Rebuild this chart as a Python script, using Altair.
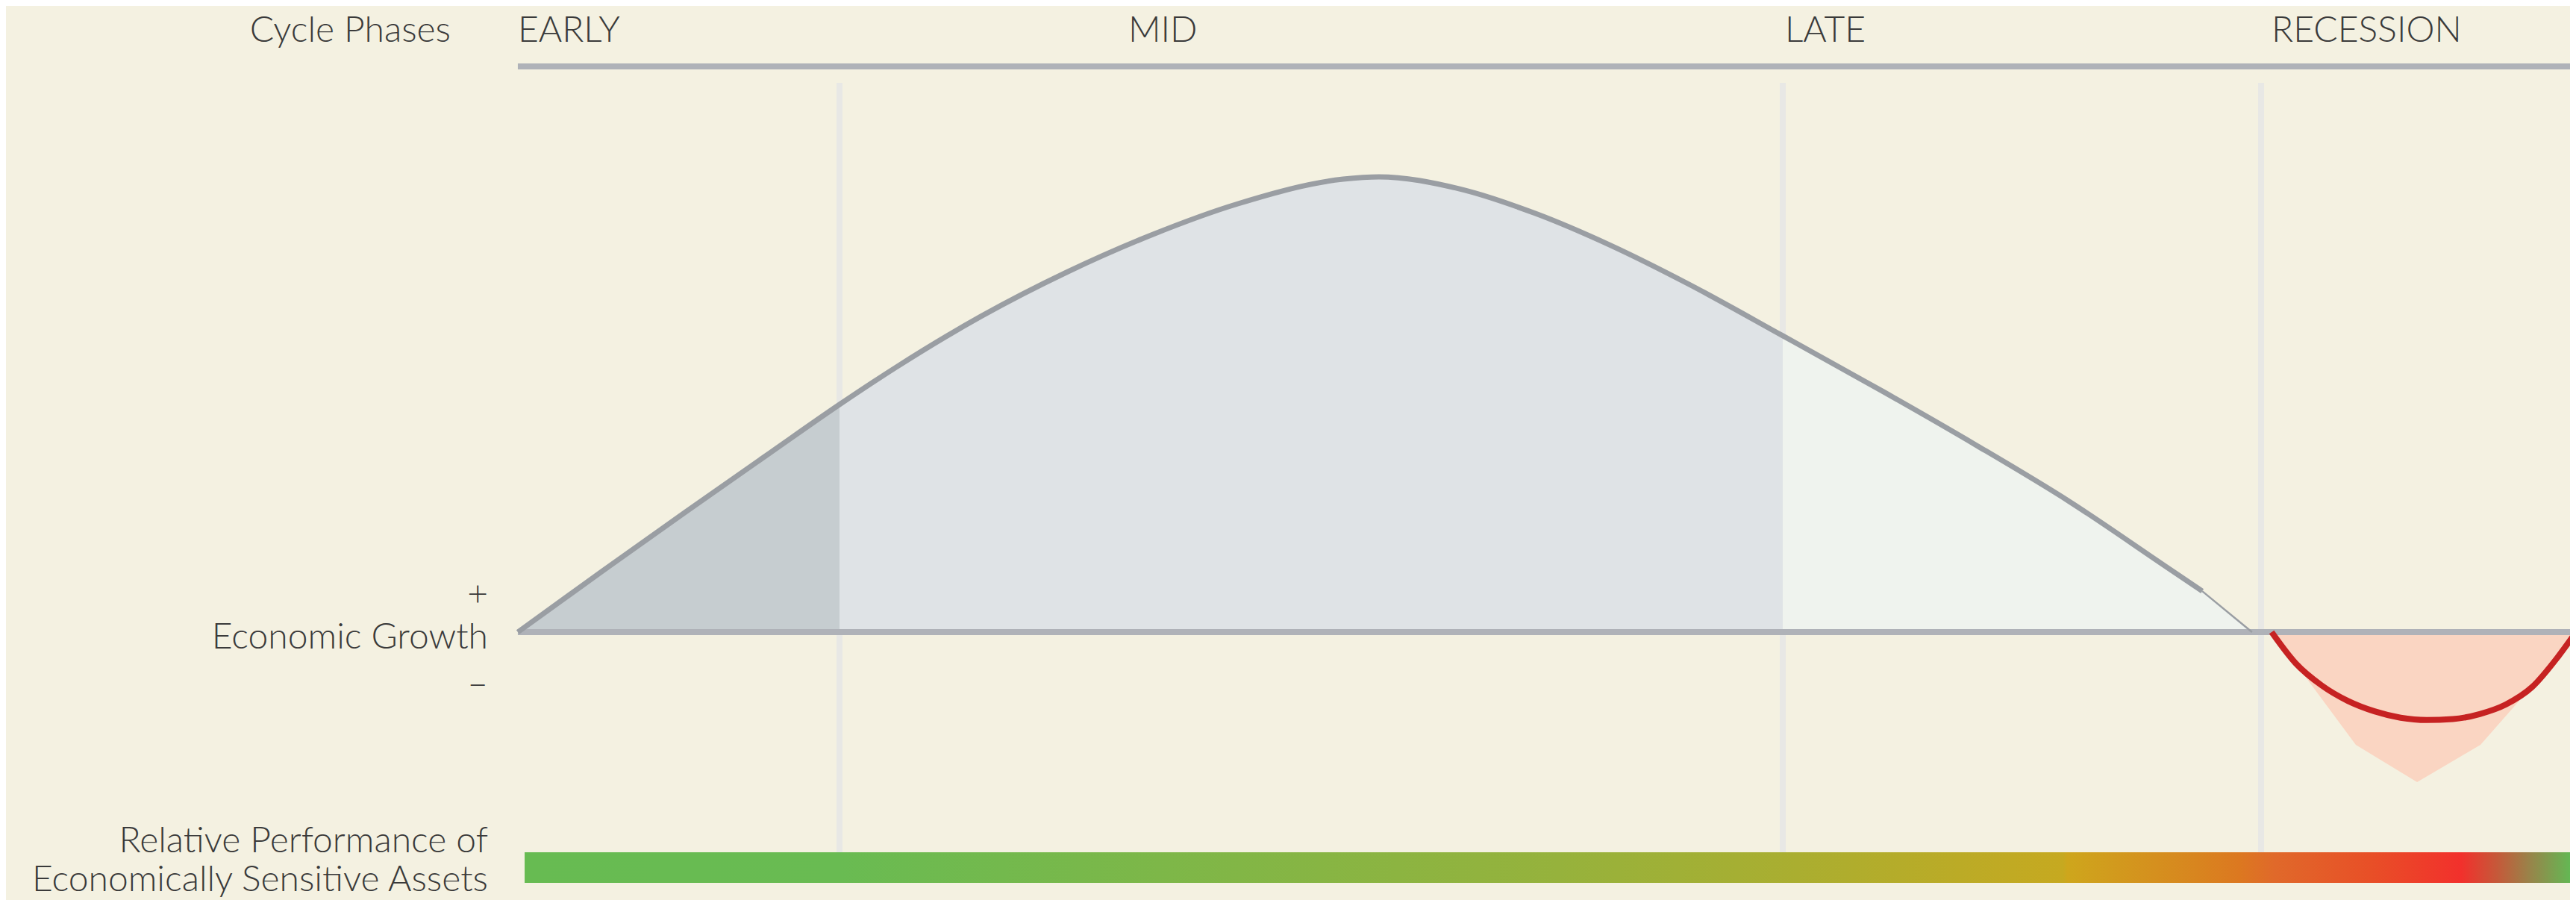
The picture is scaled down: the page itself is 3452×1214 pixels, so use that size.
import altair as alt
import pandas as pd

# ---------------- data (cycle position 0-100, growth index: peak = 100) -------------
curve_x = [0, 3.95, 8.12, 12.29, 15.63, 18.35, 22.52, 26.69, 30.82, 34.99, 40.10, 41.84,
           45.72, 49.42, 53.12, 56.82, 61.46, 66.35, 70.88, 75.38, 79.91, 81.84, 84.26]
curve_y = [0, 12.9, 26.3, 39.5, 50.0, 58.1, 69.4, 79.1, 87.3, 94.1, 99.5, 100.0,
           97.4, 92.0, 84.9, 76.6, 65.1, 52.8, 41.0, 28.7, 14.9, 9.0, 0]

phase_names = ["EARLY", "MID", "LATE", "RECESSION"]
phase_starts = [0, 15.63, 61.46, 84.70]
phase_ends = [15.63, 61.46, 84.26, 100]
phase_label_x = [0, 29.66, 61.57, 85.21]
phase_fills = ["#c6cdd0", "#dfe3e6", "#eff3ee"]

rec_x = [85.21, 86.37, 87.64, 88.91, 90.21, 91.48, 92.75, 94.02, 95.32, 96.59, 97.86, 99.13, 100]
rec_y = [0, -6.8, -11.7, -15.1, -17.4, -18.8, -19.3, -19.1, -18.0, -15.9, -12.1, -5.4, 0]

band_x = [85.21, 86.26, 89.30, 92.28, 95.36, 98.11, 99.13, 100]
band_y = [0, -6.2, -24.75, -32.95, -24.75, -10.6, -5.4, 0]

perf_start, perf_end = 0.33, 100
perf_offsets = [0, 0.154, 0.504, 0.62, 0.75, 0.752, 0.815, 0.836, 0.853, 0.90, 0.944, 0.962, 0.978, 1.0]
perf_colors = ["#67bb52", "#69bb52", "#96b23c", "#aaae30", "#c6a920", "#cea61c", "#d8851f",
               "#dc7820", "#e0692a", "#e84f27", "#f2302c", "#c45a3a", "#97854a", "#5cbf55"]

# ---------------- layout ----------------
W, H = 3436, 1198
X_DOM = [-24.87, 99.71]
Y_DOM = [-58.85, 137.54]
FONT = "Lato"
TXT = "#3a3a3a"
FS = 48

xs = alt.Scale(domain=X_DOM, nice=False, zero=False)
ys = alt.Scale(domain=Y_DOM, nice=False, zero=False)

curve = pd.DataFrame({"x": curve_x, "y": curve_y})

fill_rows = []
for i in range(3):
    for xv, yv in zip(curve_x, curve_y):
        if phase_starts[i] - 1e-9 <= xv <= phase_ends[i] + 1e-9:
            fill_rows.append({"x": xv, "y": yv, "phase": phase_names[i]})
fills = pd.DataFrame(fill_rows)

grid = pd.DataFrame({"x": phase_starts[1:]})

grid_layer = alt.Chart(grid).mark_rule(color="#e8e8e5", strokeWidth=8).encode(
    x=alt.X("x:Q", scale=xs, axis=None), y=alt.value(103), y2=alt.value(1134))

fill_layer = alt.Chart(fills).mark_area(interpolate="monotone").encode(
    x=alt.X("x:Q", scale=xs, axis=None),
    y=alt.Y("y:Q", scale=ys, axis=None),
    y2=alt.datum(0),
    color=alt.Color("phase:N", scale=alt.Scale(domain=phase_names[:3], range=phase_fills), legend=None),
    detail="phase:N")

band = pd.DataFrame({"x": band_x, "y": band_y})
band_layer = alt.Chart(band).mark_area(color="#fad5c2", interpolate="linear").encode(
    x=alt.X("x:Q", scale=xs, axis=None), y=alt.Y("y:Q", scale=ys, axis=None), y2=alt.datum(0))

rec = pd.DataFrame({"x": rec_x, "y": rec_y})
rec_fill = alt.Chart(rec).mark_area(color="#fad5c2", interpolate="monotone").encode(
    x=alt.X("x:Q", scale=xs, axis=None), y=alt.Y("y:Q", scale=ys, axis=None), y2=alt.datum(0))

base_rule = alt.Chart(pd.DataFrame({"x": [0], "x2": [100], "y": [0]})).mark_rule(
    color="#afb2b8", strokeWidth=8).encode(
    x=alt.X("x:Q", scale=xs, axis=None), x2="x2:Q", y=alt.Y("y:Q", scale=ys, axis=None))

top_rule = alt.Chart(pd.DataFrame({"x": [0], "x2": [100]})).mark_rule(
    color="#afb2b8", strokeWidth=8).encode(
    x=alt.X("x:Q", scale=xs, axis=None), x2="x2:Q", y=alt.value(81))

main_curve = curve[curve.x <= 81.84]
tail_curve = curve[curve.x >= 81.84]
line_layer = alt.Chart(main_curve).mark_line(color="#9a9ea3", strokeWidth=7, interpolate="monotone").encode(
    x=alt.X("x:Q", scale=xs, axis=None), y=alt.Y("y:Q", scale=ys, axis=None))
tail_layer = alt.Chart(tail_curve).mark_line(color="#9a9ea3", strokeWidth=2.5).encode(
    x=alt.X("x:Q", scale=xs, axis=None), y=alt.Y("y:Q", scale=ys, axis=None))

rec_line = alt.Chart(rec).mark_line(color="#c62222", strokeWidth=8, interpolate="monotone").encode(
    x=alt.X("x:Q", scale=xs, axis=None), y=alt.Y("y:Q", scale=ys, axis=None))

grad = alt.LinearGradient(
    gradient="linear", x1=0, x2=1, y1=0, y2=0,
    stops=[alt.GradientStop(offset=o, color=c) for o, c in zip(perf_offsets, perf_colors)])
bar_layer = alt.Chart(pd.DataFrame({"x": [perf_start], "x2": [perf_end]})).mark_rect(color=grad).encode(
    x=alt.X("x:Q", scale=xs, axis=None), x2="x2:Q", y=alt.value(1134), y2=alt.value(1175))

phases = pd.DataFrame({"name": phase_names, "x": phase_label_x})
phase_text = alt.Chart(phases).mark_text(
    align="left", baseline="alphabetic", font=FONT, fontSize=FS, fontWeight=300, color=TXT).encode(
    x=alt.X("x:Q", scale=xs, axis=None), y=alt.value(48), text="name:N")


def label(txt, x, y, baseline="alphabetic"):
    return alt.Chart(pd.DataFrame({"t": [txt]})).mark_text(
        align="right", baseline=baseline, font=FONT, fontSize=FS, fontWeight=300, color=TXT,
        lineBreak="\n", lineHeight=52).encode(
        x=alt.value(x), y=alt.value(y), text="t:N")


labels = [
    label("Cycle Phases", 596, 48),
    label("+", 646, 790, "middle"),
    label("Economic Growth", 646, 861),
    label("\u2013", 646, 910, "middle"),
    label("Relative Performance of\nEconomically Sensitive Assets", 646, 1134),
]

chart = alt.layer(
    grid_layer, fill_layer, band_layer, rec_fill, base_rule, top_rule,
    line_layer, tail_layer, rec_line, bar_layer, phase_text, *labels
).properties(
    width=W, height=H, padding=0, autosize=alt.AutoSizeParams(type="none"),
    background="#f4f1e1"
).configure_view(stroke=None)

chart.save("out.html", embed_options={"renderer": "svg", "actions": False})
